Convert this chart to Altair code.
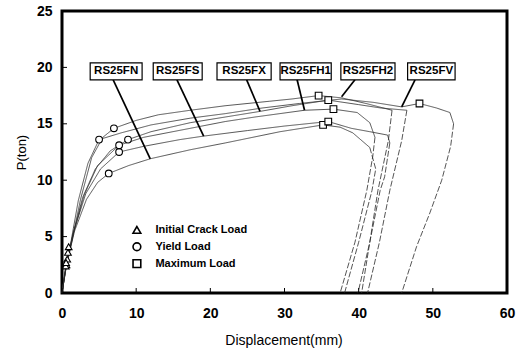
import altair as alt
import pandas as pd

# Load-displacement curves: loading branch (solid) and unloading branch (dashed)
FN_load_x = [0, 0.6, 1.7, 3.3, 4.8, 6.3, 9, 11.9, 17.3, 22, 29.4, 35.2, 37.5, 39.2, 41.5]
FN_load_y = [0, 2.5, 5.5, 8.3, 9.8, 10.6, 11.3, 11.9, 12.7, 13.3, 14.3, 14.9, 14.7, 14.2, 12.9]
FN_unload_x = [41.5, 42.3, 41.8, 40.0, 38.1]
FN_unload_y = [12.9, 11.0, 9.1, 4.5, 0]

FS_load_x = [0, 0.6, 1.6, 3.2, 5.2, 7.7, 11, 15.9, 19, 25, 30, 35.9, 39, 41.5, 43.9, 44.2]
FS_load_y = [0, 2.6, 5.5, 8.8, 11.0, 12.5, 13.0, 13.6, 13.9, 14.4, 14.8, 15.2, 14.6, 14.3, 14.0, 13.3]
FS_unload_x = [44.2, 43.5, 42.9, 41.5, 39.9]
FS_unload_y = [13.3, 10.3, 9.1, 4.5, 0]

FX_load_x = [0, 0.5, 1.4, 2.8, 4.5, 6.5, 8.9, 12, 17.3, 22, 26.7, 31, 35.9, 40, 43, 46.5]
FX_load_y = [0, 2.4, 5.0, 8.5, 11.0, 12.6, 13.6, 14.3, 15.1, 15.6, 16.1, 16.6, 17.1, 16.7, 16.4, 16.2]
FX_unload_x = [46.5, 45.8, 44.2, 42.8, 41.2]
FX_unload_y = [16.2, 13.5, 9.1, 4.5, 0]

FH1_load_x = [0, 0.6, 1.5, 3.0, 4.8, 7.7, 11, 17.3, 22, 26, 32.7, 36.6, 39.8, 41.5, 42.2]
FH1_load_y = [0, 2.5, 5.2, 8.7, 11.3, 13.1, 13.8, 14.6, 15.2, 15.6, 16.2, 16.3, 16.0, 15.1, 13.8]
FH1_unload_x = [42.2, 41.9, 41.1, 39.5, 37.5]
FH1_unload_y = [13.8, 12.1, 9.1, 4.5, 0]

FH2_load_x = [0, 0.5, 1.3, 2.5, 4.0, 5.5, 7.0, 10, 13, 17.3, 22, 28, 31, 34.6, 37.7, 41, 44.5]
FH2_load_y = [0, 2.0, 4.5, 8.3, 12.0, 13.8, 14.6, 15.3, 15.8, 16.2, 16.6, 17.0, 17.2, 17.5, 17.3, 16.8, 16.2]
FH2_unload_x = [44.5, 44.0, 42.6, 41.5, 40.4]
FH2_unload_y = [16.2, 13.5, 9.1, 4.5, 0]

FV_load_x = [0, 0.5, 1.2, 2.2, 3.5, 5.0, 8, 12, 17.3, 22, 27, 32, 37.7, 42, 45.8, 48.2, 50.5, 52.3, 52.8]
FV_load_y = [0, 2.2, 4.5, 8.2, 11.5, 13.6, 14.2, 14.9, 15.5, 15.9, 16.4, 16.8, 17.2, 16.9, 16.5, 16.8, 16.4, 16.0, 15.0]
FV_unload_x = [52.8, 52.4, 51.2, 49.6, 47.8, 45.8]
FV_unload_y = [15.0, 13.0, 10.0, 7.1, 4.1, 0]

series_names = ["RS25FN", "RS25FS", "RS25FX", "RS25FH1", "RS25FH2", "RS25FV"]

# Characteristic points
crack_x = [0.6, 0.7, 0.5, 0.8, 0.55, 0.9]
crack_y = [2.5, 3.0, 2.4, 3.6, 2.7, 4.1]
yield_x = [6.3, 7.7, 8.9, 7.7, 7.0, 5.0]
yield_y = [10.6, 12.5, 13.6, 13.1, 14.6, 13.6]
max_x = [35.2, 35.9, 35.9, 36.6, 34.6, 48.2]
max_y = [14.9, 15.2, 17.1, 16.3, 17.5, 16.8]

# Label boxes and leader lines (data units)
box_left = [3.8, 12.3, 20.9, 29.4, 37.6, 46.6]
box_right = [10.8, 18.9, 28.2, 36.3, 44.9, 53.0]
box_bottom = 18.9
box_top = 20.4
leader_x0 = [6.9, 15.5, 24.9, 31.7, 39.5, 47.6]
leader_y0 = [18.9, 18.9, 18.9, 18.9, 18.9, 18.9]
leader_x1 = [11.9, 19.1, 26.7, 32.7, 37.7, 45.8]
leader_y1 = [11.9, 13.9, 16.1, 16.2, 17.4, 16.5]

legend_labels = ["Initial Crack Load", "Yield Load", "Maximum Load"]
legend_shapes = ["triangle-up", "circle", "square"]
legend_x = 10.1
legend_text_x = 12.6
legend_y = [5.6, 4.1, 2.6]

x_ticks = [0, 10, 20, 30, 40, 50, 60]
y_ticks = [0, 5, 10, 15, 20, 25]

W, H = 445, 282
FONT = "Liberation Sans"

curve_sets = {
    "RS25FN": (FN_load_x, FN_load_y, FN_unload_x, FN_unload_y),
    "RS25FS": (FS_load_x, FS_load_y, FS_unload_x, FS_unload_y),
    "RS25FX": (FX_load_x, FX_load_y, FX_unload_x, FX_unload_y),
    "RS25FH1": (FH1_load_x, FH1_load_y, FH1_unload_x, FH1_unload_y),
    "RS25FH2": (FH2_load_x, FH2_load_y, FH2_unload_x, FH2_unload_y),
    "RS25FV": (FV_load_x, FV_load_y, FV_unload_x, FV_unload_y),
}

rows = []
for name, (lx, ly, ux, uy) in curve_sets.items():
    for i, (a, b) in enumerate(zip(lx, ly)):
        rows.append({"s": name, "seg": "load", "k": name + "-load", "i": i, "x": a, "y": b})
    for i, (a, b) in enumerate(zip(ux, uy)):
        rows.append({"s": name, "seg": "unload", "k": name + "-unload", "i": i, "x": a, "y": b})
curves = pd.DataFrame(rows)

pts = pd.DataFrame(
    [{"x": a, "y": b, "t": "triangle-up"} for a, b in zip(crack_x, crack_y)]
    + [{"x": a, "y": b, "t": "circle"} for a, b in zip(yield_x, yield_y)]
    + [{"x": a, "y": b, "t": "square"} for a, b in zip(max_x, max_y)]
)

boxes = pd.DataFrame({
    "name": series_names,
    "x0": box_left, "x1": box_right,
    "y0": [box_bottom] * 6, "y1": [box_top] * 6,
    "xc": [(a + b) / 2 for a, b in zip(box_left, box_right)],
    "yc": [(box_bottom + box_top) / 2] * 6,
})
leaders = pd.DataFrame({"x0": leader_x0, "y0": leader_y0, "x1": leader_x1, "y1": leader_y1})
legend = pd.DataFrame({"label": legend_labels, "t": legend_shapes,
                       "x": [legend_x] * 3, "tx": [legend_text_x] * 3, "y": legend_y})

xs = alt.Scale(domain=[0, 60], nice=False)
ys = alt.Scale(domain=[0, 25], nice=False)
shape_scale = alt.Scale(domain=legend_shapes, range=legend_shapes)

x_axis = alt.Axis(values=x_ticks, title="Displacement(mm)", labelFlush=False,
                  labelPadding=13, labelFontSize=14, labelFontWeight="bold",
                  titleFontSize=14, titleFontWeight="normal",
                  titleX=W / 2 - 1, titleY=47, titleBaseline="middle")
y_axis = alt.Axis(values=y_ticks, title="P(ton)", labelFlush=False,
                  labelPadding=10, labelFontSize=14, labelFontWeight="bold",
                  titleFontSize=13, titleFontWeight="normal",
                  titleX=-41, titleY=H / 2, titleBaseline="middle", titleAlign="center")

lines = alt.Chart(curves).mark_line(strokeWidth=0.8, color="#2a2a2a").encode(
    x=alt.X("x:Q", scale=xs, axis=x_axis),
    y=alt.Y("y:Q", scale=ys, axis=y_axis),
    detail="k:N",
    order="i:Q",
    strokeDash=alt.StrokeDash("seg:N", scale=alt.Scale(domain=["load", "unload"],
                                                       range=[[1, 0], [6, 2]]), legend=None),
)

markers = alt.Chart(pts).mark_point(size=45, filled=True, fill="white",
                                    stroke="black", strokeWidth=1.1, opacity=1).encode(
    x=alt.X("x:Q", scale=xs), y=alt.Y("y:Q", scale=ys),
    shape=alt.Shape("t:N", scale=shape_scale, legend=None),
)

leader_rules = alt.Chart(leaders).mark_rule(strokeWidth=1.7, color="black").encode(
    x=alt.X("x0:Q", scale=xs), y=alt.Y("y0:Q", scale=ys), x2="x1:Q", y2="y1:Q",
)

box_rects = alt.Chart(boxes).mark_rect(fill="white", stroke="black", strokeWidth=1.2).encode(
    x=alt.X("x0:Q", scale=xs), x2="x1:Q", y=alt.Y("y0:Q", scale=ys), y2="y1:Q",
)
box_text = alt.Chart(boxes).mark_text(font=FONT, fontSize=11.5, fontWeight="bold",
                                      color="black").encode(
    x=alt.X("xc:Q", scale=xs), y=alt.Y("yc:Q", scale=ys), text="name:N",
)

legend_pts = alt.Chart(legend).mark_point(size=60, filled=True, fill="white",
                                          stroke="black", strokeWidth=1.6, opacity=1).encode(
    x=alt.X("x:Q", scale=xs), y=alt.Y("y:Q", scale=ys),
    shape=alt.Shape("t:N", scale=shape_scale, legend=None),
)
legend_txt = alt.Chart(legend).mark_text(font=FONT, fontSize=11, fontWeight="bold",
                                         align="left", color="black").encode(
    x=alt.X("tx:Q", scale=xs), y=alt.Y("y:Q", scale=ys), text="label:N",
)

# inward tick marks
xt = alt.Chart(pd.DataFrame({"v": x_ticks})).mark_rule(color="black", strokeWidth=1).encode(
    x=alt.X("v:Q", scale=xs), y=alt.value(H), y2=alt.value(H - 5),
)
yt = alt.Chart(pd.DataFrame({"v": y_ticks})).mark_rule(color="black", strokeWidth=1).encode(
    y=alt.Y("v:Q", scale=ys), x=alt.value(0), x2=alt.value(5),
)

chart = alt.layer(
    lines, leader_rules, markers, box_rects, box_text, legend_pts, legend_txt, xt, yt
).properties(
    width=W, height=H,
    autosize=alt.AutoSizeParams(type="none"),
    padding={"left": 62, "top": 11, "right": 15, "bottom": 62},
    background="white",
).configure_view(
    stroke="black", strokeWidth=3,
).configure_axis(
    grid=False, domain=False, ticks=False,
    labelFont=FONT, titleFont=FONT, labelColor="black", titleColor="black",
)

chart.save("out.html", embed_options={"renderer": "svg", "actions": False})
